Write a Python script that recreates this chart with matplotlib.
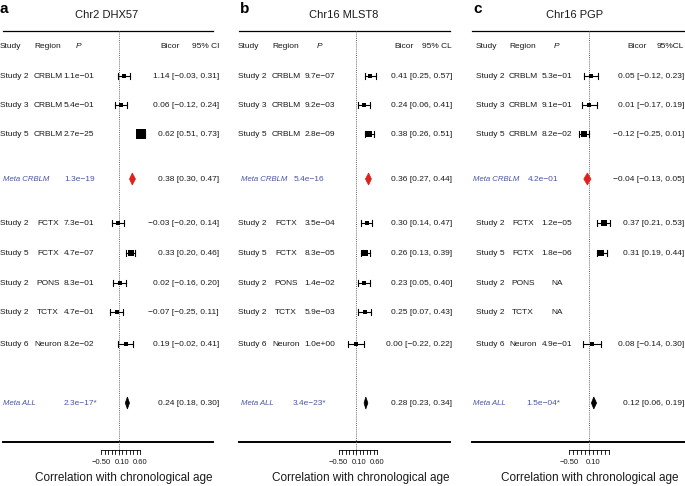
import matplotlib
matplotlib.use("Agg")
from matplotlib import pyplot as plt
from matplotlib.patches import Polygon
import numpy as np

plt.rcParams['font.family'] = ['Liberation Sans', 'DejaVu Sans']

## data
studies = ["Study 2", "Study 3", "Study 5", "Meta CRBLM", "Study 2", "Study 5",
           "Study 2", "Study 2", "Study 6", "Meta ALL"]
regions = ["CRBLM", "CRBLM", "CRBLM", "", "FCTX", "FCTX", "PONS", "TCTX", "Neuron", ""]
is_meta = [False, False, False, True, False, False, False, False, False, True]

titles = ["Chr2 DHX57", "Chr16 MLST8", "Chr16 PGP"]
letters = ["a", "b", "c"]
ci_headers = ["95% CI", "95% CL", "95%CL"]

p_a = ["1.1e\u221201", "5.4e\u221201", "2.7e\u221225", "1.3e\u221219", "7.3e\u221201",
       "4.7e\u221207", "8.3e\u221201", "4.7e\u221201", "8.2e\u221202", "2.3e\u221217*"]
est_a = [0.14, 0.06, 0.62, 0.38, -0.03, 0.33, 0.02, -0.07, 0.19, 0.24]
lo_a = [-0.03, -0.12, 0.51, 0.30, -0.20, 0.20, -0.16, -0.25, -0.02, 0.18]
hi_a = [0.31, 0.24, 0.73, 0.47, 0.14, 0.46, 0.20, 0.11, 0.41, 0.30]
bicor_label_a = [1.14, 0.06, 0.62, 0.38, -0.03, 0.33, 0.02, -0.07, 0.19, 0.24]
weight_a = [1, 1, 4, 0, 1, 2.5, 1, 1, 1, 0]

p_b = ["9.7e\u221207", "9.2e\u221203", "2.8e\u221209", "5.4e\u221216", "3.5e\u221204",
       "8.3e\u221205", "1.4e\u221202", "5.9e\u221203", "1.0e+00", "3.4e\u221223*"]
est_b = [0.41, 0.24, 0.38, 0.36, 0.30, 0.26, 0.23, 0.25, 0.00, 0.28]
lo_b = [0.25, 0.06, 0.26, 0.27, 0.14, 0.13, 0.05, 0.07, -0.22, 0.23]
hi_b = [0.57, 0.41, 0.51, 0.44, 0.47, 0.39, 0.40, 0.43, 0.22, 0.34]
weight_b = [1.3, 1, 2.5, 0, 1.2, 2.5, 1, 1.3, 1, 0]

p_c = ["5.3e\u221201", "9.1e\u221201", "8.2e\u221202", "4.2e\u221201", "1.2e\u221205",
       "1.8e\u221206", "NA", "NA", "4.9e\u221201", "1.5e\u221204*"]
est_c = [0.05, 0.01, -0.12, -0.04, 0.37, 0.31, np.nan, np.nan, 0.08, 0.12]
lo_c = [-0.12, -0.17, -0.25, -0.13, 0.21, 0.19, np.nan, np.nan, -0.14, 0.06]
hi_c = [0.23, 0.19, 0.01, 0.05, 0.53, 0.44, np.nan, np.nan, 0.30, 0.19]
weight_c = [1, 1, 2.5, 0, 2, 2.5, 0, 0, 1, 0]

meta_colors = {"Meta CRBLM": "#e0201b", "Meta ALL": "k"}

axis_ticks = [np.round(np.arange(-0.5, 0.61, 0.1), 2),
              np.round(np.arange(-0.5, 0.61, 0.1), 2),
              np.round(np.arange(-0.5, 0.51, 0.1), 2)]
axis_labels = [[-0.5, 0.1, 0.6], [-0.5, 0.1, 0.6], [-0.5, 0.1]]

panels = [
    dict(p=p_a, est=est_a, lo=lo_a, hi=hi_a, lab=bicor_label_a, w=weight_a),
    dict(p=p_b, est=est_b, lo=lo_b, hi=hi_b, lab=est_b, w=weight_b),
    dict(p=p_c, est=est_c, lo=lo_c, hi=hi_c, lab=est_c, w=weight_c),
]

## layout (pixels)
W, H = 685, 486
row_y = [76, 105, 134, 179, 223, 253, 283, 312, 344, 403]
layout = [
    dict(left=0, right=228, zero=119, scale=35, line=(3, 213), study=0, region=48, pc=79,
         meta=3, meta_p=80, bic_r=219, bic_h=160, title=107, letter=0, xlab=124),
    dict(left=228, right=455, zero=356, scale=35, line=(239, 450), study=238, region=286, pc=320,
         meta=241, meta_p=309, bic_r=452, bic_h=394, title=344, letter=240, xlab=361),
    dict(left=455, right=685, zero=589, scale=40, line=(472, 685), study=476, region=523, pc=557,
         meta=473, meta_p=543, bic_r=684, bic_h=627, title=575, letter=473, xlab=590),
]

TXT = "#1a1a1a"
META = "#4a56a6"
FS = 6.0


def fmt(v):
    return f"{v:.2f}".replace("-", "\u2212")


fig = plt.figure(figsize=(W / 100, H / 100), dpi=100)

for k in range(3):
    L = layout[k]
    d = panels[k]
    ax = fig.add_axes([L['left'] / W, 0, (L['right'] - L['left']) / W, 1])
    ax.set_xlim((L['left'] - L['zero']) / L['scale'], (L['right'] - L['zero']) / L['scale'])
    ax.set_ylim(H, 0)
    ax.axis('off')
    X = lambda px: (px - L['zero']) / L['scale']

    # title and letter
    ax.text(X(L['letter']), 9, letters[k], fontsize=11, fontweight='bold', va='center', ha='left', color='k')
    ax.text(X(L['title']), 15, titles[k], fontsize=8, va='center', ha='center', color=TXT)
    ax.plot([X(L['line'][0]), X(L['line'][1])], [31, 31], color='k', lw=0.9)
    ax.plot([X(L['line'][0]), X(L['line'][1])], [442, 442], color='k', lw=1.4)
    ax.plot([0, 0], [31, 455], color='#666666', lw=0.7, ls=(0, (1, 1.2)))

    # header
    hy = 47
    ax.text(X(L['study']), hy, "Study", fontsize=FS, va='center', ha='left', color=TXT)
    ax.text(X(L['region']), hy, "Region", fontsize=FS, va='center', ha='center', color=TXT)
    ax.text(X(L['pc']), hy, "P", fontsize=FS, va='center', ha='center', style='italic', color=TXT)
    ax.text(X(L['bic_h']), hy, "Bicor", fontsize=FS, va='center', ha='left', color=TXT)
    ax.text(X(L['bic_r']), hy, ci_headers[k], fontsize=FS, va='center', ha='right', color=TXT)

    for i, y in enumerate(row_y):
        e, lo, hi = d['est'][i], d['lo'][i], d['hi'][i]
        if is_meta[i]:
            ax.text(X(L['meta']), y, studies[i], fontsize=5.6, va='center', ha='left',
                    style='italic', color=META)
            ax.text(X(L['meta_p']), y, d['p'][i], fontsize=FS, va='center', ha='center', color=META)
            col = meta_colors[studies[i]]
            ax.add_patch(Polygon([[lo, y], [e, y - 6], [hi, y], [e, y + 6]], closed=True,
                                 facecolor=col, edgecolor=col, lw=0.5))
        else:
            ax.text(X(L['study']), y, studies[i], fontsize=FS, va='center', ha='left', color=TXT)
            ax.text(X(L['region']), y, regions[i], fontsize=FS, va='center', ha='center', color=TXT)
            ax.text(X(L['pc']), y, d['p'][i], fontsize=FS, va='center', ha='center', color=TXT)
            if np.isnan(e):
                continue
            ax.plot([lo, hi], [y, y], color='k', lw=0.8)
            ax.plot([lo, lo], [y - 3, y + 3], color='k', lw=0.8)
            ax.plot([hi, hi], [y - 3, y + 3], color='k', lw=0.8)
            ax.plot([e], [y], marker='s', color='k', ms=1.6 * d['w'][i] + 0.6, mew=0)
        if not np.isnan(e):
            txt = f"{fmt(d['lab'][i])} [{fmt(lo)}, {fmt(hi)}]"
            ax.text(X(L['bic_r']), y, txt, fontsize=FS, va='center', ha='right', color=TXT)

    # small axis
    t = axis_ticks[k]
    ax.plot([t[0], t[-1]], [450, 450], color='k', lw=0.6)
    for tv in t:
        ax.plot([tv, tv], [450, 454], color='k', lw=0.6)
    for tv in axis_labels[k]:
        ax.text(tv, 462, fmt(tv), fontsize=5.5, va='center', ha='center', color=TXT)
    ax.text(X(L['xlab']), 478, "Correlation with chronological age", fontsize=8.5,
            va='center', ha='center', color=TXT)

fig.savefig("out.png", dpi=100)
